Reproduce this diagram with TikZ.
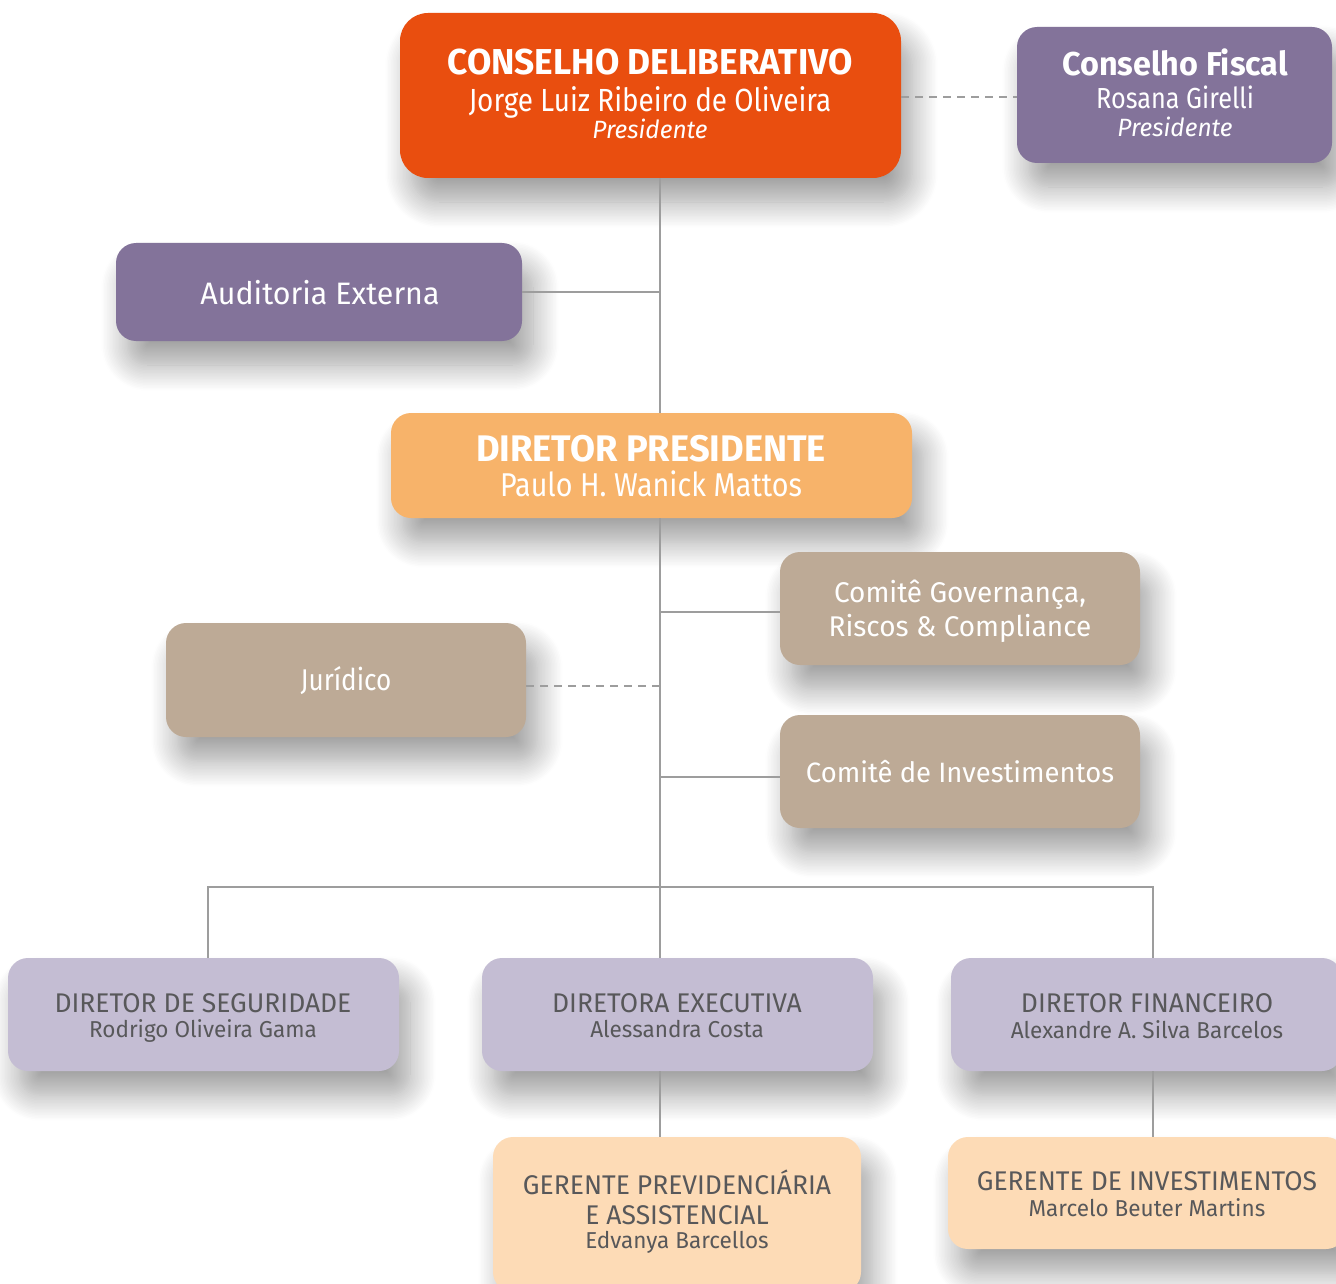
\documentclass[tikz,border=0pt]{standalone}
\usepackage{fontspec}
\setmainfont{Fira Sans}[FakeStretch=0.98]
\newfontfamily\condfont{Fira Sans}[FakeStretch=0.87]
\usetikzlibrary{shadows.blur}
\definecolor{cdOrange}{HTML}{E94E0F}
\definecolor{cfPurple}{HTML}{83739A}
\definecolor{dpOrange}{HTML}{F7B36A}
\definecolor{tanBox}{HTML}{BDAA96}
\definecolor{lilac}{HTML}{C4BDD3}
\definecolor{peach}{HTML}{FDDBB6}
\definecolor{darkText}{HTML}{58585A}
\definecolor{lineGray}{HTML}{9D9D9D}
\newcommand{\fs}[1]{\fontsize{#1}{#1}\selectfont}
\tikzset{
  orgbox/.style={rectangle, rounded corners=20pt, draw=none, inner sep=0pt,
    blur shadow={shadow xshift=11pt, shadow yshift=-24pt, shadow blur radius=26pt, shadow blur steps=18, shadow opacity=38}},
  wtext/.style={anchor=base, text=white, inner sep=0pt},
  dtext/.style={anchor=base, text=darkText, inner sep=0pt},
  conn/.style={draw=lineGray, line width=2.6pt},
  dconn/.style={draw=lineGray, line width=2.6pt, dash pattern=on 8pt off 6pt},
}
\begin{document}
\begin{tikzpicture}[x=1pt, y=-1pt]
\useasboundingbox (0,0) rectangle (1336,1284);
\clip (0,0) rectangle (1336,1284);
% boxes
\node[orgbox, fill=cdOrange, rounded corners=28pt, minimum width=501pt, minimum height=165pt] (cd) at (650.5,95.5) {};
\node[orgbox, fill=cfPurple, minimum width=315pt, minimum height=136pt] (cf) at (1174.5,95) {};
\node[orgbox, fill=cfPurple, minimum width=406pt, minimum height=98pt] (ae) at (319,292) {};
\node[orgbox, fill=dpOrange, minimum width=521pt, minimum height=105pt] (dp) at (651.5,465.5) {};
\node[orgbox, fill=tanBox, minimum width=360pt, minimum height=113pt] (cg) at (960,608.5) {};
\node[orgbox, fill=tanBox, minimum width=360pt, minimum height=114pt] (jur) at (346,680) {};
\node[orgbox, fill=tanBox, minimum width=360pt, minimum height=113pt] (ci) at (960,771.5) {};
\node[orgbox, fill=lilac, minimum width=391pt, minimum height=113pt] (ds) at (203.5,1014.5) {};
\node[orgbox, fill=lilac, minimum width=391pt, minimum height=113pt] (de) at (677.5,1014.5) {};
\node[orgbox, fill=lilac, minimum width=391pt, minimum height=113pt] (df) at (1146.5,1014.5) {};
\node[orgbox, fill=peach, minimum width=368pt, minimum height=155pt] (gpa) at (677,1214.5) {};
\node[orgbox, fill=peach, minimum width=398pt, minimum height=112pt] (gi) at (1147,1193) {};
% texts
\node[wtext, font=\bfseries\fs{36}] (cd1) at (650,75) {CONSELHO DELIBERATIVO};
\node[wtext, font=\condfont\fs{32}] (cd2) at (650,112) {Jorge Luiz Ribeiro de Oliveira};
\node[wtext, font=\itshape\fs{25}] (cd3) at (650,139) {Presidente};
\node[wtext, font=\bfseries\fs{33}] (cf1) at (1175,76) {Conselho Fiscal};
\node[wtext, font=\condfont\fs{29}] (cf2) at (1175,109) {Rosana Girelli};
\node[wtext, font=\itshape\fs{25}] (cf3) at (1175,137) {Presidente};
\node[wtext, font=\fs{31}] (ae1) at (320,304) {Auditoria Externa};
\node[wtext, font=\bfseries\fs{37}] (dp1) at (651,461) {DIRETOR PRESIDENTE};
\node[wtext, font=\condfont\fs{33}] (dp2) at (651,496) {Paulo H. Wanick Mattos};
\node[wtext, font=\fs{28.5}] (cg1) at (960,602) {Comitê Governança,};
\node[wtext, font=\fs{28.5}] (cg2) at (960,636) {Riscos \& Compliance};
\node[wtext, font=\condfont\fs{30}] (jur1) at (346,690) {Jurídico};
\node[wtext, font=\fs{28}] (ci1) at (960,782) {Comitê de Investimentos};
\node[dtext, font=\fs{27}] (ds1) at (203,1012) {DIRETOR DE SEGURIDADE};
\node[dtext, font=\fs{23}] (ds2) at (203,1037) {Rodrigo Oliveira Gama};
\node[dtext, font=\fs{27}] (de1) at (677,1012) {DIRETORA EXECUTIVA};
\node[dtext, font=\fs{23}] (de2) at (677,1037) {Alessandra Costa};
\node[dtext, font=\fs{27}] (df1) at (1147,1012) {DIRETOR FINANCEIRO};
\node[dtext, font=\fs{23}] (df2) at (1147,1038) {Alexandre A. Silva Barcelos};
\node[dtext, font=\fs{27}] (gpa1) at (677,1194) {GERENTE PREVIDENCIÁRIA};
\node[dtext, font=\fs{27}] (gpa2) at (677,1224) {E ASSISTENCIAL};
\node[dtext, font=\fs{23}] (gpa3) at (677,1248) {Edvanya Barcellos};
\node[dtext, font=\fs{27}] (gi1) at (1147,1190) {GERENTE DE INVESTIMENTOS};
\node[dtext, font=\fs{23}] (gi2) at (1147,1216) {Marcelo Beuter Martins};
% connectors
\coordinate (tr) at (660,0);
\coordinate (bus) at (660,887);
\draw[dconn] ([yshift=-1.5pt]cd.east) -- ([yshift=-1.5pt]cd.east -| cf.west);
\draw[conn] (cd.south -| tr) -- (dp.north -| tr);
\draw[conn] (ae.east) -- (ae.east -| tr);
\draw[conn] (dp.south -| tr) -- (de.north -| tr);
\draw[conn] ([yshift=-3.5pt]cg.west) -- ([yshift=-3.5pt]cg.west -| tr);
\draw[dconn] ([yshift=-6pt]jur.east) -- ([yshift=-6pt]jur.east -| tr);
\draw[conn] ([yshift=-5.5pt]ci.west) -- ([yshift=-5.5pt]ci.west -| tr);
\draw[conn] ([xshift=4.5pt]ds.north) |- (bus) -| ([xshift=6.5pt]df.north);
\draw[conn] (de.south -| tr) -- (gpa.north -| tr);
\draw[conn] ([xshift=6.5pt]df.south) -- ([xshift=6.5pt]df.south |- gi.north);
\end{tikzpicture}
\end{document}
